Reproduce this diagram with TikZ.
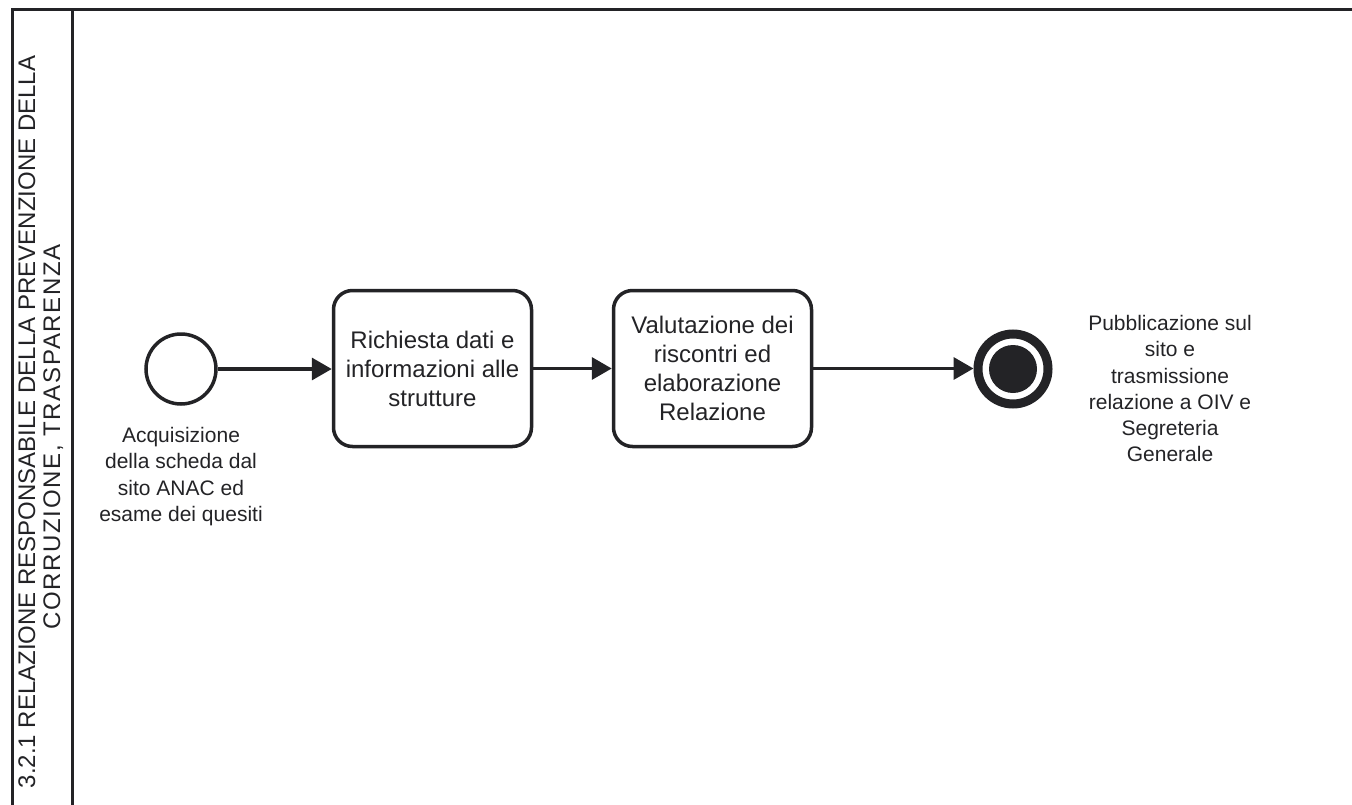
\documentclass[tikz,border=0pt]{standalone}
\usepackage{fontspec}
\setmainfont{Liberation Sans}
\usetikzlibrary{arrows.meta}
\definecolor{ink}{RGB}{35,35,38}

\begin{document}
\begin{tikzpicture}[x=1bp,y=-1bp,
  lanerule/.style={draw=ink,line width=3bp},
  taskbox/.style={draw=ink,line width=3.5bp,rounded corners=19bp,
    minimum width=198bp,minimum height=156bp,inner sep=0pt,align=center,
    font=\fontsize{24bp}{29bp}\selectfont,text=ink},
  startev/.style={circle,draw=ink,line width=3.5bp,minimum size=70bp,inner sep=0pt},
  endev/.style={circle,draw=ink,line width=9bp,minimum size=70bp,inner sep=0pt},
  endcore/.style={circle,fill=ink,minimum size=48bp,inner sep=0pt},
  evlabel/.style={align=center,inner sep=0pt,anchor=north,
    font=\fontsize{21bp}{26.3bp}\selectfont,text=ink},
  flow/.style={draw=ink,line width=3.5bp,-{Triangle[length=20bp,width=22bp]}},
  lanetitle/.style={rotate=90,anchor=base,inner sep=0pt,
    font=\fontsize{24bp}{25bp}\selectfont,text=ink}
]
\useasboundingbox (0,0) rectangle (1352,804);

% pool frame and lane header divider
\begin{scope}
  \clip (0,0) rectangle (1352,804);
  \draw[lanerule] (1400,10) -- (12,10) -- (12,850);
  \draw[lanerule] (72,10) -- (72,850);
\end{scope}

% lane title
\node[lanetitle] (lanetitleA) at (35,422) {3.2.1 RELAZIONE RESPONSABILE DELLA PREVENZIONE DELLA};
\node[lanetitle] (lanetitleB) at (60,437) {\addfontfeature{LetterSpace=7}CORRUZIONE, TRASPARENZA};

% events and tasks
\node[startev] (start) at (181,369) {};
\node[taskbox] (taskA) at (432.5,368.5) {Richiesta dati e\\informazioni alle\\strutture};
\node[taskbox] (taskB) at (712.5,368.5) {Valutazione dei\\riscontri ed\\elaborazione\\Relazione};
\node[endev] (finish) at (1013,369) {};
\node[endcore] (finishcore) at (finish.center) {};

% event labels
\node[evlabel] (startlabel) at (181,427) {Acquisizione\\della scheda dal\\sito ANAC ed\\esame dei quesiti};
\node[evlabel] (finishlabel) at (1170,315) {Pubblicazione sul\\sito e\\trasmissione\\relazione a OIV e\\Segreteria\\Generale};

% sequence flows
\draw[flow] (start.east) -- (start.east -| taskA.west);
\draw[flow] (taskA.east) -- (taskB.west);
\draw[flow] (taskB.east) -- (taskB.east -| finish.west);
\end{tikzpicture}
\end{document}
